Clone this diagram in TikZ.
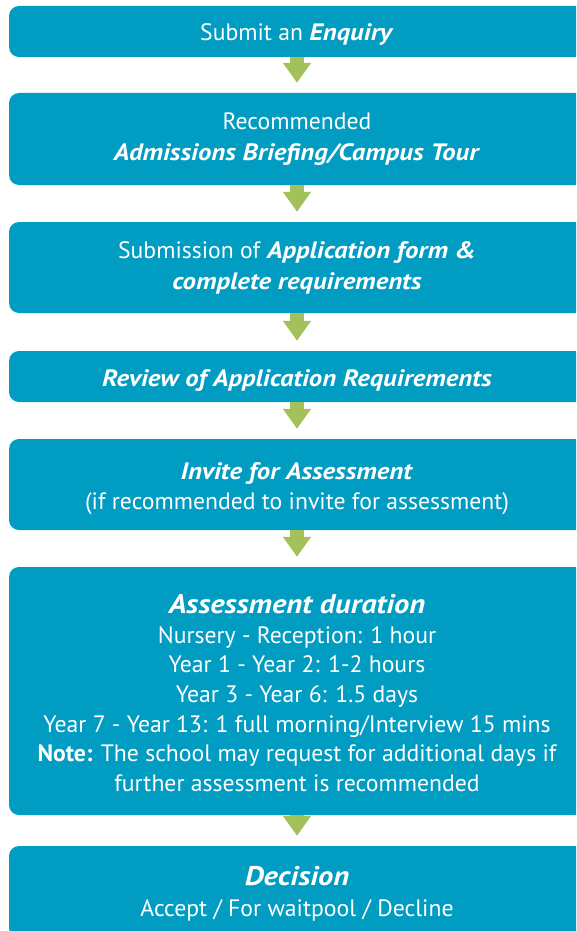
\documentclass[tikz,border=0pt]{standalone}
\usepackage{fontspec}
\setmainfont{PT Sans}[BoldItalicFeatures={FakeStretch=1.13}]
\usepackage{xcolor}
\usetikzlibrary{arrows.meta}
\definecolor{boxteal}{RGB}{0,156,193}
\definecolor{arrowgreen}{RGB}{163,193,90}
\newcommand{\hl}[1]{\textbf{\textit{#1}}}
\newcommand{\bigtitle}[1]{{\fontsize{27}{30}\selectfont\hl{#1}}}

\begin{document}
\begin{tikzpicture}[
    x=1pt, y=-1pt,
    stepbox/.style={rectangle,rounded corners=10pt,fill=boxteal,
      minimum width=576pt,inner sep=0pt},
    steptext/.style={text=white,inner sep=0pt,align=center,
      font=\fontsize{23.7}{31}\selectfont},
    arrow/.style={-{Triangle[width=27pt,length=20pt]},line width=14pt,
      draw=arrowgreen,shorten >=10pt}
  ]
    \useasboundingbox (0,0) rectangle (576,931);
    \clip (0,0) rectangle (576,931);

    % boxes
    \node[stepbox,minimum height=51pt] (enquiry) at (297,31.5) {};
    \node[stepbox,minimum height=92pt] (briefing) at (297,139) {};
    \node[stepbox,minimum height=91pt] (application) at (297,267.5) {};
    \node[stepbox,minimum height=51pt] (review) at (297,376.5) {};
    \node[stepbox,minimum height=91pt] (invite) at (297,484.5) {};
    \node[stepbox,minimum height=248pt] (duration) at (297,691) {};
    \node[stepbox,minimum height=92pt] (decision) at (297,892) {};

    % texts
    \node[steptext] (enquirytxt) at ([yshift=-3pt]enquiry.center) {Submit an \hl{Enquiry}};
    \node[steptext] (briefingtxt) at ([yshift=-0.5pt]briefing.center) {Recommended\\\hl{Admissions Briefing/Campus Tour}};
    \node[steptext] (applicationtxt) at (application.center) {Submission of \hl{Application form \&}\\\hl{complete requirements}};
    \node[steptext] (reviewtxt) at ([yshift=-4pt]review.center) {\hl{Review of Application Requirements}};
    \node[steptext] (invitetxt) at ([yshift=-4.5pt]invite.center) {\hl{Invite for Assessment}\\[-1pt](if recommended to invite for assessment)};
    \node[steptext,font=\fontsize{23.7}{29.7}\selectfont] (durationtxt) at ([yshift=-2pt]duration.center) {\bigtitle{Assessment duration}\\
      Nursery - Reception: 1 hour\\
      Year 1 - Year 2: 1-2 hours\\
      Year 3 - Year 6: 1.5 days\\
      Year 7 - Year 13: 1 full morning/Interview 15 mins\\
      \textbf{Note:} The school may request for additional days if\\
      further assessment is recommended};
    \node[steptext] (decisiontxt) at ([yshift=-2pt]decision.center) {\bigtitle{Decision}\\Accept / For waitpool / Decline};

    % flow
    \draw[arrow] (enquiry) -- (briefing);
    \draw[arrow] (briefing) -- (application);
    \draw[arrow] (application) -- (review);
    \draw[arrow] (review) -- (invite);
    \draw[arrow] (invite) -- (duration);
    \draw[arrow] (duration) -- (decision);
  \end{tikzpicture}
\end{document}
